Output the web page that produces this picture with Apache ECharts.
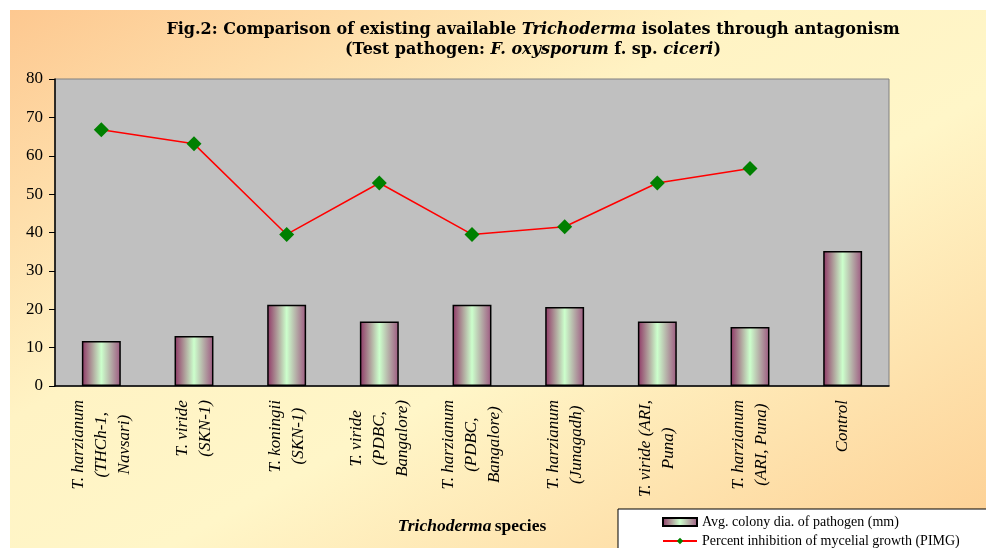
<!DOCTYPE html>
<html>
<head>
<meta charset="utf-8">
<style>
  html, body { margin: 0; padding: 0; background: #fff; }
  #bg { position: absolute; left: 10px; top: 10px; width: 976px; height: 538px;
        background: linear-gradient(to bottom right, #fdc890 0%, #fff3c4 38%, #fff6c8 58%, #fdcf93 100%); }
  #main { position: absolute; left: 0; top: 0; width: 986px; height: 548px; }
</style>
</head>
<body>
<div id="bg"></div>
<div id="main"></div>
<script src="https://cdn.jsdelivr.net/npm/echarts@6/dist/echarts.min.js"></script>
<script>
  // species labels (line breaks as in the figure)
  var categories = [
    'T. harzianum\n(THCh-1,\nNavsari)',
    'T. viride\n(SKN-1)',
    'T. koningii\n(SKN-1)',
    'T. viride\n(PDBC,\nBangalore)',
    'T. harzianum\n(PDBC,\nBangalore)',
    'T. harzianum\n(Junagadh)',
    'T. viride (ARI,\nPuna)',
    'T. harzianum\n(ARI, Puna)',
    'Control'
  ];
  // avg colony dia. of pathogen (mm)
  var colonyDia = [11.7, 13.0, 21.2, 16.8, 21.2, 20.6, 16.8, 15.4, 35.2];
  // percent inhibition of mycelial growth
  var pimg = [66.8, 63.1, 39.5, 52.9, 39.5, 41.5, 52.9, 56.7, null];
  var yTicks = { min: 0, max: 80, interval: 10 };

  var barName = 'Avg. colony dia. of pathogen (mm)';
  var lineName = 'Percent inhibition of mycelial growth (PIMG)';
  var serif = '"Liberation Serif", "Times New Roman", serif';

  var myChart = echarts.init(document.getElementById('main'));

  var option = {
    backgroundColor: 'transparent',
    animation: false,
    title: {
      left: 528,
      top: 15,
      textAlign: 'center',
      text: '{b|Fig.2: Comparison of existing available }{bi|Trichoderma}{b| isolates through antagonism}\n' +
            '{b|(Test pathogen: }{bi|F. oxysporum}{b| f. sp. }{bi|ciceri}{b|)}',
      textStyle: {
        rich: {
          b: { fontFamily: '"DejaVu Serif", serif', fontWeight: 'bold', fontSize: 16, color: '#000', lineHeight: 20 },
          bi: { fontFamily: '"DejaVu Serif", serif', fontWeight: 'bold', fontStyle: 'italic', fontSize: 16, color: '#000', lineHeight: 20 }
        }
      }
    },
    legend: {
      orient: 'vertical',
      left: 618,
      top: 509,
      height: 60,
      backgroundColor: '#fff',
      borderColor: '#000',
      borderWidth: 1,
      padding: [6, 200, 10, 44],
      itemWidth: 34,
      itemHeight: 8,
      itemGap: 5,
      textStyle: { fontFamily: serif, fontSize: 14, color: '#000' },
      data: [{ name: barName, icon: 'rect' }, { name: lineName }]
    },
    grid: {
      left: 55, right: 97, top: 79, bottom: 162,
      show: true,
      backgroundColor: '#c0c0c0',
      borderColor: '#808080',
      borderWidth: 1
    },
    xAxis: [{
      type: 'category',
      data: categories,
      name: '{i|Trichoderma} {b|species}',
      nameLocation: 'middle',
      nameGap: 131,
      nameTextStyle: {
        rich: {
          i: { fontFamily: serif, fontWeight: 'bold', fontStyle: 'italic', fontSize: 17.5, color: '#000' },
          b: { fontFamily: serif, fontWeight: 'bold', fontSize: 17.5, color: '#000' }
        }
      },
      axisLine: { lineStyle: { color: '#000', width: 1.5 } },
      axisTick: { alignWithLabel: false, length: 6, lineStyle: { color: '#000' } },
      axisLabel: {
        interval: 0,
        rotate: 90,
        margin: 14,
        formatter: function (v) {
          return v.split('\n').map(function (l) { return '{c|' + l + '}'; }).join('\n');
        },
        rich: {
          c: { align: 'center', fontFamily: serif, fontStyle: 'italic', fontSize: 17, color: '#000', lineHeight: 23 }
        }
      }
    }, {
      type: 'category',
      data: categories,
      position: 'bottom',
      axisLine: { show: false },
      axisTick: { inside: true, length: 4, lineStyle: { color: '#000' } },
      axisLabel: { show: false }
    }],
    yAxis: {
      type: 'value',
      min: yTicks.min,
      max: yTicks.max,
      interval: yTicks.interval,
      splitLine: { show: false },
      axisLine: { show: true, lineStyle: { color: '#000', width: 1.5 } },
      axisTick: { show: true, length: 6, lineStyle: { color: '#000' } },
      axisLabel: { fontFamily: serif, fontSize: 17, color: '#000', margin: 12 }
    },
    series: [{
      name: barName,
      type: 'bar',
      barWidth: '42%',
      data: colonyDia,
      itemStyle: {
        borderColor: '#000',
        borderWidth: 1.5,
        color: new echarts.graphic.LinearGradient(0, 0, 1, 0, [
          { offset: 0, color: '#8f3565' },
          { offset: 0.5, color: '#ccffcc' },
          { offset: 1, color: '#9d5780' }
        ])
      }
    }, {
      name: lineName,
      type: 'line',
      data: pimg,
      symbol: 'diamond',
      symbolSize: 15,
      lineStyle: { color: '#ff0000', width: 1.5 },
      itemStyle: { color: '#008000' },
      z: 5
    }]
  };

  myChart.setOption(option);
</script>
</body>
</html>
